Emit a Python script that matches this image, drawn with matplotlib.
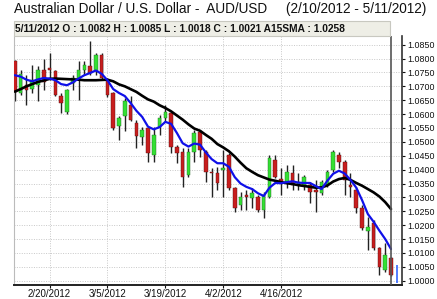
import matplotlib
matplotlib.use("Agg")
import matplotlib.pyplot as plt
from matplotlib.patches import Rectangle
import numpy as np
import pandas as pd

plt.rcParams['font.family'] = ['Liberation Sans', 'DejaVu Sans']

# ---------------- data ----------------
dates = pd.bdate_range("2012-02-10", "2012-05-11")
opens = [1.0790, 1.0676, 1.0706, 1.0692, 1.0706, 1.0758, 1.0766, 1.0757, 1.0664, 1.0606,
         1.0712, 1.0724, 1.0760, 1.0772, 1.0754, 1.0814, 1.0724, 1.0676, 1.0556, 1.0592,
         1.0634, 1.0568, 1.0519, 1.0549, 1.0453, 1.0555, 1.0585, 1.0603, 1.0483, 1.0465,
         1.0381, 1.0465, 1.0537, 1.0465, 1.0393, 1.0387, 1.0398, 1.0453, 1.0333, 1.0273,
         1.0309, 1.0297, 1.0303, 1.0255, 1.0303, 1.0435, 1.0365, 1.0357, 1.0387, 1.0345,
         1.0345, 1.0345, 1.0327, 1.0315, 1.0345, 1.0399, 1.0453, 1.0429, 1.0345, 1.0327,
         1.0261, 1.0180, 1.0207, 1.0117, 1.0039, 1.0082]
highs = [1.0795, 1.0760, 1.0742, 1.0776, 1.0772, 1.0800, 1.0820, 1.0760, 1.0676, 1.0690,
         1.0742, 1.0790, 1.0790, 1.0862, 1.0820, 1.0820, 1.0730, 1.0680, 1.0592, 1.0658,
         1.0664, 1.0580, 1.0555, 1.0555, 1.0555, 1.0597, 1.0633, 1.0609, 1.0489, 1.0477,
         1.0477, 1.0543, 1.0543, 1.0471, 1.0405, 1.0411, 1.0471, 1.0459, 1.0339, 1.0321,
         1.0327, 1.0333, 1.0309, 1.0321, 1.0453, 1.0453, 1.0405, 1.0417, 1.0417, 1.0387,
         1.0381, 1.0357, 1.0363, 1.0363, 1.0399, 1.0471, 1.0465, 1.0435, 1.0387, 1.0339,
         1.0273, 1.0231, 1.0219, 1.0122, 1.0135, 1.0085]
lows = [1.0648, 1.0668, 1.0634, 1.0676, 1.0648, 1.0688, 1.0724, 1.0666, 1.0604, 1.0600,
        1.0688, 1.0652, 1.0742, 1.0742, 1.0742, 1.0726, 1.0662, 1.0544, 1.0508, 1.0538,
        1.0574, 1.0478, 1.0490, 1.0429, 1.0429, 1.0525, 1.0573, 1.0459, 1.0423, 1.0339,
        1.0375, 1.0429, 1.0445, 1.0357, 1.0303, 1.0327, 1.0303, 1.0327, 1.0249, 1.0255,
        1.0255, 1.0261, 1.0249, 1.0225, 1.0297, 1.0369, 1.0309, 1.0333, 1.0327, 1.0327,
        1.0327, 1.0279, 1.0249, 1.0309, 1.0339, 1.0393, 1.0405, 1.0309, 1.0303, 1.0243,
        1.0183, 1.0111, 1.0111, 1.0021, 1.0032, 1.0018]
closes = [1.0678, 1.0745, 1.0686, 1.0722, 1.0760, 1.0715, 1.0760, 1.0670, 1.0640, 1.0688,
          1.0730, 1.0760, 1.0778, 1.0748, 1.0814, 1.0730, 1.0670, 1.0550, 1.0586, 1.0646,
          1.0580, 1.0522, 1.0543, 1.0459, 1.0525, 1.0585, 1.0609, 1.0483, 1.0459, 1.0375,
          1.0465, 1.0531, 1.0470, 1.0393, 1.0387, 1.0351, 1.0405, 1.0333, 1.0261, 1.0303,
          1.0303, 1.0315, 1.0255, 1.0309, 1.0441, 1.0375, 1.0353, 1.0393, 1.0345, 1.0357,
          1.0375, 1.0321, 1.0321, 1.0357, 1.0393, 1.0465, 1.0429, 1.0363, 1.0339, 1.0261,
          1.0189, 1.0192, 1.0117, 1.0050, 1.0093, 1.0021]
fast_ma = [1.0740, 1.0735, 1.0724, 1.0718, 1.0725, 1.0730, 1.0728, 1.0722, 1.0708, 1.0704,
           1.0714, 1.0728, 1.0740, 1.0748, 1.0757, 1.0745, 1.0722, 1.0690, 1.0676, 1.0665,
           1.0640, 1.0612, 1.0590, 1.0555, 1.0545, 1.0553, 1.0572, 1.0565, 1.0532, 1.0495,
           1.0483, 1.0494, 1.0490, 1.0462, 1.0438, 1.0423, 1.0423, 1.0410, 1.0373, 1.0350,
           1.0338, 1.0330, 1.0315, 1.0305, 1.0335, 1.0352, 1.0351, 1.0355, 1.0358, 1.0353,
           1.0352, 1.0352, 1.0341, 1.0330, 1.0360, 1.0385, 1.0396, 1.0386, 1.0363, 1.0335,
           1.0290, 1.0240, 1.0212, 1.0180, 1.0150, 1.0114]
sma15 = [1.0681, 1.0690, 1.0700, 1.0708, 1.0716, 1.0721, 1.0727, 1.0728, 1.0727, 1.0726,
         1.0725, 1.0724, 1.0722, 1.0722, 1.0722, 1.0723, 1.0724, 1.0718, 1.0707, 1.0700,
         1.0690, 1.0680, 1.0666, 1.0653, 1.0645, 1.0632, 1.0622, 1.0610, 1.0595, 1.0580,
         1.0563, 1.0548, 1.0540, 1.0525, 1.0511, 1.0492, 1.0480, 1.0466, 1.0447, 1.0425,
         1.0405, 1.0392, 1.0380, 1.0372, 1.0364, 1.0360, 1.0355, 1.0351, 1.0348, 1.0344,
         1.0341, 1.0338, 1.0335, 1.0336, 1.0343, 1.0357, 1.0366, 1.0370, 1.0363, 1.0352,
         1.0342, 1.0330, 1.0318, 1.0303, 1.0283, 1.0258]
next_bar = [1.0057, 0.9990]
tick_dates = ["2/20/2012", "3/5/2012", "3/19/2012", "4/2/2012", "4/16/2012"]
y_ticks = [1.0000, 1.0050, 1.0100, 1.0150, 1.0200, 1.0250, 1.0300, 1.0350, 1.0400,
           1.0450, 1.0500, 1.0550, 1.0600, 1.0650, 1.0700, 1.0750, 1.0800, 1.0850]
title = "Australian Dollar / U.S. Dollar -  AUD/USD     (2/10/2012 - 5/11/2012)"
header = "5/11/2012 O : 1.0082 H : 1.0085 L : 1.0018 C : 1.0021 A15SMA : 1.0258"

# ---------------- figure ----------------
W, H = 437, 299
fig = plt.figure(figsize=(W / 100, H / 100), dpi=100)

def fx(px):
    return px / W

def fy(py):
    return 1 - py / H

ax = fig.add_axes([fx(14), fy(285), fx(402) - fx(14), fy(36) - fy(285)])

x = np.arange(len(closes))
o = np.array(opens); c = np.array(closes); h = np.array(highs); l = np.array(lows)
up = c >= o
green = '#33e033'
red = '#c81e1e'

# wicks
ax.vlines(x, l, h, color='#222222', linewidth=1.0, zorder=2)
# bodies
bw = 0.62
bottoms = np.minimum(o, c)
heights = np.maximum(np.abs(c - o), 0.00025)
ax.bar(x[up], heights[up], bw, bottoms[up], color=green, edgecolor='#226622',
       linewidth=0.3, zorder=3)
ax.bar(x[~up], heights[~up], bw, bottoms[~up], color=red, edgecolor='#551111',
       linewidth=0.3, zorder=3)

# moving averages
ax.plot(x, sma15, color='black', linewidth=1.9, zorder=4, solid_capstyle='round')
ax.plot(x, fast_ma, color='#1010e8', linewidth=1.6, zorder=5, solid_capstyle='round')

# current bar cursor and next bar
ax.axvline(len(closes) - 1, color='#555555', linewidth=1.2, zorder=6)
ax.vlines([len(closes)], next_bar[1], next_bar[0], color='#3366ff', linewidth=1.2, zorder=6)

ax.set_xlim(-0.15, 66.9)
ax.set_ylim(0.99845, 1.08813)

# ticks
date_strs = [f"{d.month}/{d.day}/{d.year}" for d in dates]
xt = [date_strs.index(t) for t in tick_dates]
ax.set_xticks(xt)
ax.set_xticklabels(tick_dates)
ax.set_yticks(y_ticks)
ax.set_yticklabels([f"{v:.4f}" for v in y_ticks])
ax.yaxis.tick_right()
ax.tick_params(axis='y', length=2.0, width=0.8, labelsize=6.4, pad=1.5, colors='#111111')
ax.tick_params(axis='x', length=2.0, width=0.8, labelsize=7.0, pad=1.0, colors='#111111')

ax.grid(True, color='#c8c8c8', linestyle=(0, (1, 1.5)), linewidth=0.7)
ax.set_axisbelow(True)

ax.spines['top'].set_visible(False)
ax.spines['left'].set_color('#bbbbbb')
ax.spines['left'].set_linewidth(0.8)
ax.spines['bottom'].set_color('#222222')
ax.spines['bottom'].set_linewidth(1.4)
ax.spines['right'].set_color('#333333')
ax.spines['right'].set_linewidth(1.2)

# header box
fig.patches.append(Rectangle((fx(14), fy(35.5)), fx(390) - fx(14), fy(21) - fy(35.5),
                             transform=fig.transFigure, facecolor='#eeeee6',
                             edgecolor='#c8c8c0', linewidth=0.8))
fig.text(fx(15.5), fy(28.5), header, fontsize=7.4, fontweight='bold', va='center',
         ha='left', color='#111111')

fig.text(fx(14.5), fy(9), title, fontsize=9.8, va='center', ha='left', color='#111111')

fig.savefig("out.png", dpi=100)
